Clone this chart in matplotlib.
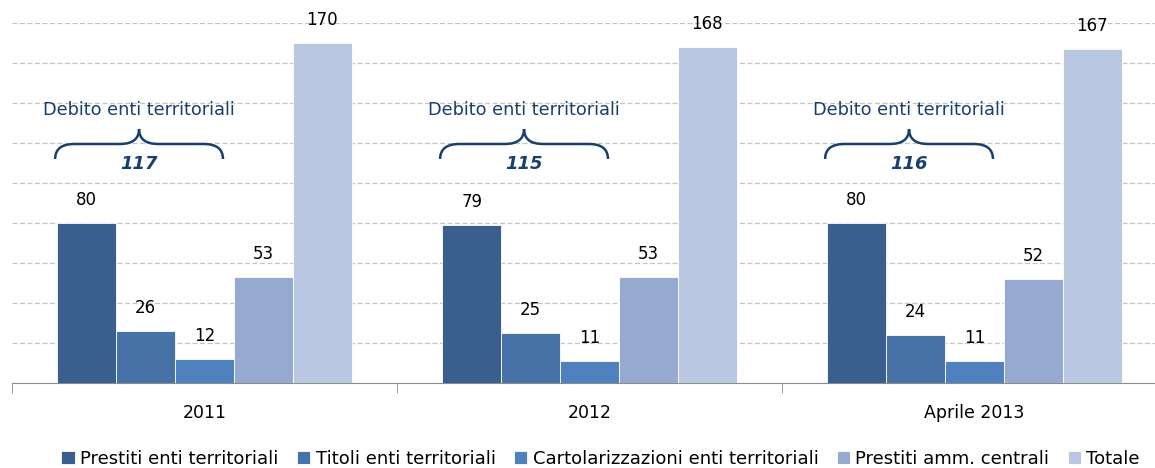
import numpy as np
import matplotlib.pyplot as plt
from matplotlib.path import Path
from matplotlib.patches import PathPatch

categorie = ['2011', '2012', 'Aprile 2013']
serie = ['Prestiti enti territoriali', 'Titoli enti territoriali',
         'Cartolarizzazioni enti territoriali', 'Prestiti amm. centrali', 'Totale']
prestiti_enti = [80, 79, 80]
titoli_enti = [26, 25, 24]
cartolarizzazioni = [12, 11, 11]
prestiti_amm = [53, 53, 52]
totale = [170, 168, 167]
debito_enti = [117, 115, 116]

valori = [prestiti_enti, titoli_enti, cartolarizzazioni, prestiti_amm, totale]
colori = ['#3A5F8F', '#4672A8', '#4E81BE', '#95A9D1', '#B9C7E1']
navy = '#17406D'

fig = plt.figure(figsize=(11.55, 4.68), dpi=100)
ax = fig.add_axes([12 / 1155, 85 / 468, 1.0, 360 / 468])

x = np.arange(len(categorie))
w = 0.153
for i, (vals, col) in enumerate(zip(valori, colori)):
    pos = x + (i - 2) * w
    ax.bar(pos, vals, width=w, color=col, edgecolor='white', linewidth=0.6, label=serie[i], zorder=3)
    for p, v in zip(pos, vals):
        ax.annotate(str(v), (p, v), xytext=(0, 10), textcoords='offset points',
                    ha='center', va='bottom', fontsize=12, color='black')

# parentesi graffe "Debito enti territoriali"
for c, tot in zip(x, debito_enti):
    x0, x1, xm = c - 0.388, c + 0.048, c - 0.17
    r = 0.05
    y_end, y_mid, y_peak = 112, 119.5, 127
    verts = [(x0, y_end), (x0, y_mid), (x0 + r, y_mid),
             (xm - r, y_mid), (xm, y_mid), (xm, y_peak),
             (xm, y_mid), (xm + r, y_mid),
             (x1 - r, y_mid), (x1, y_mid), (x1, y_end)]
    codes = [Path.MOVETO, Path.CURVE3, Path.CURVE3,
             Path.LINETO, Path.CURVE3, Path.CURVE3,
             Path.CURVE3, Path.CURVE3,
             Path.LINETO, Path.CURVE3, Path.CURVE3]
    ax.add_patch(PathPatch(Path(verts, codes), fill=False, edgecolor=navy, linewidth=1.8, zorder=4))
    ax.text(xm, 136.5, 'Debito enti territoriali', ha='center', va='center', fontsize=12.8, color=navy)
    ax.text(xm, 109.5, str(tot), ha='center', va='center', fontsize=13, color=navy,
            fontweight='bold', fontstyle='italic')

ax.set_xlim(-0.5, 2.5)
ax.set_ylim(0, 180)
ax.set_yticks(np.arange(20, 181, 20))
ax.yaxis.grid(True, linestyle=(0, (4, 2)), color='#C4C4C4', linewidth=0.9, zorder=0)
ax.tick_params(axis='y', left=False, labelleft=False)
ax.set_xticks(x)
ax.set_xticklabels(categorie, fontsize=12.5)
ax.tick_params(axis='x', which='major', length=0, pad=15)
ax.set_xticks([-0.5, 0.5, 1.5], minor=True)
ax.tick_params(axis='x', which='minor', length=7, color='#8C8C8C', direction='out')
for s in ['top', 'right', 'left']:
    ax.spines[s].set_visible(False)
ax.spines['bottom'].set_color('#8C8C8C')

fig.legend(loc='lower center', bbox_to_anchor=(0.52, -0.035), ncol=5, frameon=False,
           fontsize=13, handlelength=0.75, handleheight=0.75, handletextpad=0.3,
           columnspacing=1.0)

fig.savefig('out.png', dpi=100)
